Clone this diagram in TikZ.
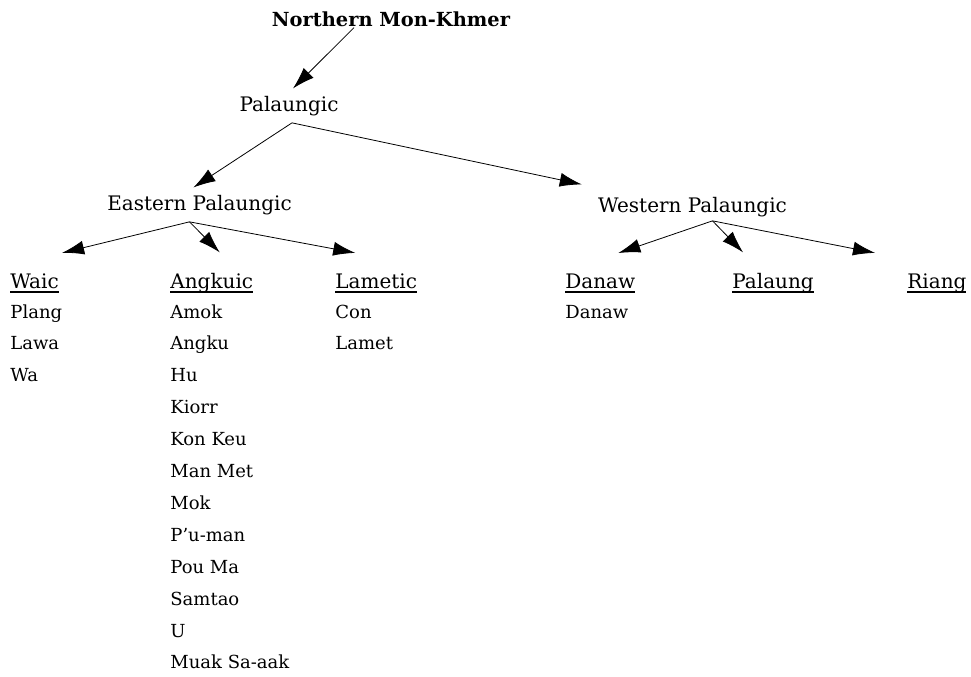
\documentclass[tikz,border=0pt]{standalone}
\usepackage{fontspec}
\setmainfont{DejaVu Serif}
\usetikzlibrary{arrows.meta}
\newsavebox{\headbox}
\newcommand{\ulhead}[1]{\sbox{\headbox}{#1}\rlap{\rule[-2.5pt]{\wd\headbox}{1.1pt}}\usebox{\headbox}}

\begin{document}
\begin{tikzpicture}[x=0.5pt,y=-0.5pt,>={Latex[length=11pt,width=7pt]},
	tree/.style={inner sep=3.5pt,font=\fontsize{10}{12}\selectfont},
	group/.style={anchor=base west,inner xsep=0pt,inner ysep=10pt,font=\fontsize{10}{12}\selectfont},
	lang/.style={anchor=base west,inner sep=0pt,font=\fontsize{9}{11}\selectfont}]

	\useasboundingbox (0,0) rectangle (971,676);

	\node [tree,anchor=base,font=\bfseries\fontsize{9.7}{12}\selectfont] (nmk) at (391,26) {Northern Mon-Khmer};
	\node [tree,anchor=base] (pal) at (289,111) {Palaungic};
	\node [tree,anchor=base] (east) at (199.5,210) {Eastern Palaungic};
	\node [tree,anchor=base] (west) at (692.5,212) {Western Palaungic};

	\node [group] (waic) at (10,288) {\ulhead{Waic}};
	\node [group] (angk) at (170,288) {\ulhead{Angkuic}};
	\node [group] (lam) at (335,288) {\ulhead{Lametic}};
	\node [group] (dan) at (565,288) {\ulhead{Danaw}};
	\node [group] (plg) at (732,288) {\ulhead{Palaung}};
	\node [group] (riang) at (907,288) {\ulhead{Riang}};

	\foreach \name [count=\i] in {Plang,Lawa,Wa}
		\node [lang] (waic\i) at (10,{318+31.9*(\i-1)}) {\name};
	\foreach \name [count=\i] in {Amok,Angku,Hu,Kiorr,Kon Keu,Man Met,Mok,P’u-man,Pou Ma,Samtao,U,Muak Sa-aak}
		\node [lang] (angk\i) at (170,{318+31.9*(\i-1)}) {\name};
	\foreach \name [count=\i] in {Con,Lamet}
		\node [lang] (lam\i) at (335,{318+31.9*(\i-1)}) {\name};
	\node [lang] (dan1) at (565,318) {Danaw};

	\draw [->] ([xshift=-18.5pt,yshift=3pt]nmk.south) -- ([xshift=2pt]pal.north);
	\draw [->] ([xshift=1.5pt]pal.south) -- ([xshift=-3pt]east.north);
	\draw [->] ([xshift=1.5pt]pal.south) -- ([xshift=-4.5pt,yshift=2.5pt]west.north west);

	\draw [->] ([xshift=-5pt]east.south) -- ([xshift=1.5pt]waic.north east);
	\draw [->] ([xshift=-5pt]east.south) -- ([xshift=4pt]angk.north);
	\draw [->] ([xshift=-5pt]east.south) -- ([xshift=-10.5pt]lam.north);

	\draw [->] ([xshift=10pt,yshift=1.5pt]west.south) -- ([xshift=9pt]dan.north);
	\draw [->] ([xshift=10pt,yshift=1.5pt]west.south) -- ([xshift=-15pt]plg.north);
	\draw [->] ([xshift=10pt,yshift=1.5pt]west.south) -- ([xshift=-16pt]riang.north west);

\end{tikzpicture}
\end{document}
